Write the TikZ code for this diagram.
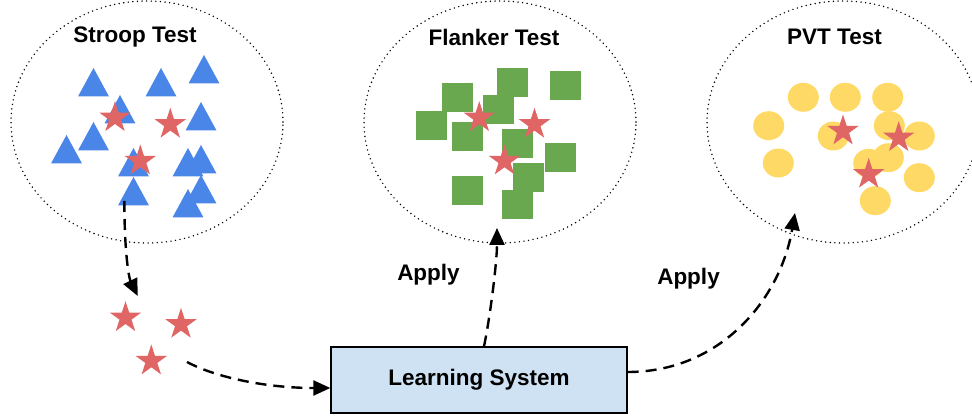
\documentclass[tikz,border=0pt]{standalone}
\usepackage{fontspec}
\setmainfont{Liberation Sans}
\usetikzlibrary{shapes.geometric,arrows.meta,calc}
\definecolor{triblue}{HTML}{4A86E8}
\definecolor{sqgreen}{HTML}{6AA84F}
\definecolor{cyellow}{HTML}{FFD966}
\definecolor{starred}{HTML}{E06666}
\definecolor{boxblue}{HTML}{CFE2F3}
\begin{document}
\begin{tikzpicture}[x=1pt,y=-1pt,
  region/.style={ellipse, draw, line width=1.6pt, dash pattern=on 0pt off 4.6pt, line cap=round, minimum width=272pt, minimum height=242pt, inner sep=0pt},
  title/.style={font=\fontsize{22.5}{26}\selectfont\bfseries, inner sep=0pt},
  redstar/.style={star, star points=5, star point ratio=2.618, fill=starred, draw=none, minimum size=33pt, inner sep=0pt, outer sep=0pt},
  flow/.style={line width=2.4pt, dash pattern=on 11pt off 7pt, -{Triangle[length=17pt,width=15pt]}},
  sysbox/.style={draw, line width=1.3pt, fill=boxblue, minimum width=296pt, minimum height=66pt, inner sep=0pt, font=\fontsize{22.5}{26}\selectfont\bfseries}
]
\useasboundingbox (0,0) rectangle (972,419);
\begin{scope}
\clip (0,0) rectangle (972,419);
% regions
\node[region] (stroop) at (147,122) {};
\node[region] (flanker) at (500,122) {};
\node[region] (pvt) at (843,122) {};
\end{scope}
\node[title] (stroopT) at (135,37) {Stroop Test};
\node[title] (flankerT) at (494,37) {Flanker Test};
\node[title] (pvtT) at (834.5,37) {PVT Test};

% triangles
\foreach \cx/\top in {93.5/68, 161/68, 204/55, 120/95, 201/102, 93.5/122, 66.5/135, 133.5/148, 188/148, 201/145, 133.5/177, 201/175, 188/189}
  \fill[triblue] (\cx-15.5,\top+28.5) -- (\cx,\top) -- (\cx+15.5,\top+28.5) -- cycle;

% squares
\foreach \x/\y in {442.3/82.7, 496.7/68.3, 550/71, 415.7/111, 483.3/95, 451.7/121.7, 501.7/129, 545/143.3, 513/163.3, 451.7/175.7, 501.7/190}
  \fill[sqgreen] (\x,\y) rectangle ++(31,29);

% circles
\foreach \x/\y in {803.3/97.3, 845.3/97.3, 887.7/97.3, 768.7/125.7, 889.3/125.7, 833.3/136, 919.3/136, 888.3/157.7, 868.7/163.3, 778.3/163, 919.3/177.7, 875.3/200.7}
  \fill[cyellow] (\x,\y) ellipse [x radius=15.5, y radius=14.5];

% stars
\node[redstar] (st1) at (115,117.7) {};
\node[redstar] (st2) at (170.3,124.3) {};
\node[redstar] (st3) at (140.3,161) {};
\node[redstar] (sf1) at (479.3,117.7) {};
\node[redstar] (sf2) at (534.5,124.3) {};
\node[redstar] (sf3) at (504.5,161) {};
\node[redstar] (sp1) at (843,131) {};
\node[redstar] (sp2) at (898.7,137.7) {};
\node[redstar] (sp3) at (868.7,174.3) {};
\node[redstar] (sl1) at (125.5,317.7) {};
\node[redstar] (sl2) at (181,324.3) {};
\node[redstar] (sl3) at (151.3,361) {};

% learning system
\node[sysbox] (ls) at (479,380) {Learning System};

% labels
\node[title] (apply1) at (428.5,275) {Apply};
\node[title] (apply2) at (688.5,279) {Apply};

% connectors
\coordinate (stroopout) at (124.3,201);
\coordinate (starsin) at (137.7,296);
\coordinate (starsout) at (187,362);
\coordinate (flankerin) at (497,228);
\coordinate (pvtin) at (795,213);
\draw[flow] (stroopout) .. controls (124.5,255) and (129,278) .. (starsin);
\draw[flow] (starsout) .. controls (215,377) and (265,388) .. ($(ls.west)+(0,8)$);
\draw[flow] ($(ls.north)+(5,0)$) .. controls (490,318) and (497,262) .. (flankerin);
\draw[flow] ($(ls.east)+(0,-8)$) .. controls (720,372) and (780,300) .. (pvtin);
\end{tikzpicture}
\end{document}
